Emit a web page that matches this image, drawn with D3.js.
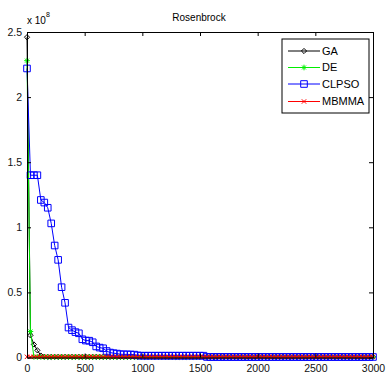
<!DOCTYPE html>
<html>
<head>
<meta charset="utf-8">
<script src="https://cdn.jsdelivr.net/npm/d3@7"></script>
<style>
body { margin: 0; background: #fff; }
</style>
</head>
<body>
<script>
// iterations (x) - one sample every 30 iterations
const iters = [0,30,60,90,120,150,180,210,240,270,300,330,360,390,420,450,480,510,540,570,
  600,630,660,690,720,750,780,810,840,870,900,930,960,990,1020,1050,1080,1110,1140,1170,
  1200,1230,1260,1290,1320,1350,1380,1410,1440,1470,1500,1530,1560,1590,1620,1650,1680,1710,1740,1770,
  1800,1830,1860,1890,1920,1950,1980,2010,2040,2070,2100,2130,2160,2190,2220,2250,2280,2310,2340,2370,
  2400,2430,2460,2490,2520,2550,2580,2610,2640,2670,2700,2730,2760,2790,2820,2850,2880,2910,2940,2970,3000]

// valeurs en unités de 1e8
const gaVals = [2.46,0.17,0.10,0.055,0.015,0.006,0.005,0.005,0.005,0.005,0.005,0.005,0.005,0.005,0.005,0.005,0.005,0.005,0.005,0.005,
  0.005,0.005,0.005,0.005,0.005,0.005,0.005,0.005,0.005,0.005,0.005,0.005,0.005,0.005,0.005,0.005,0.005,0.005,0.005,0.005,
  0.005,0.005,0.005,0.005,0.005,0.005,0.005,0.005,0.005,0.005,0.005,0.005,0.005,0.005,0.005,0.005,0.005,0.005,0.005,0.005,
  0.005,0.005,0.005,0.005,0.005,0.005,0.005,0.005,0.005,0.005,0.005,0.005,0.005,0.005,0.005,0.005,0.005,0.005,0.005,0.005,
  0.005,0.005,0.005,0.005,0.005,0.005,0.005,0.005,0.005,0.005,0.005,0.005,0.005,0.005,0.005,0.005,0.005,0.005,0.005,0.005,0.005]

const deVals = [2.28,0.20,0.004,0.004,0.004,0.004,0.004,0.004,0.004,0.004,0.004,0.004,0.004,0.004,0.004,0.004,0.004,0.004,0.004,0.004,
  0.004,0.004,0.004,0.004,0.004,0.004,0.004,0.004,0.004,0.004,0.004,0.004,0.004,0.004,0.004,0.004,0.004,0.004,0.004,0.004,
  0.004,0.004,0.004,0.004,0.004,0.004,0.004,0.004,0.004,0.004,0.004,0.004,0.004,0.004,0.004,0.004,0.004,0.004,0.004,0.004,
  0.004,0.004,0.004,0.004,0.004,0.004,0.004,0.004,0.004,0.004,0.004,0.004,0.004,0.004,0.004,0.004,0.004,0.004,0.004,0.004,
  0.004,0.004,0.004,0.004,0.004,0.004,0.004,0.004,0.004,0.004,0.004,0.004,0.004,0.004,0.004,0.004,0.004,0.004,0.004,0.004,0.004]

const clpsoVals = [2.22,1.40,1.40,1.40,1.21,1.19,1.15,1.03,0.86,0.75,0.54,0.42,0.23,0.21,0.195,0.186,0.14,0.13,0.129,0.117,
  0.085,0.076,0.071,0.05,0.038,0.033,0.030,0.025,0.024,0.024,0.023,0.022,0.016,0.014,0.014,0.014,0.014,0.014,0.014,0.014,
  0.014,0.014,0.014,0.014,0.014,0.014,0.014,0.014,0.014,0.014,0.014,0.014,0.004,0.004,0.004,0.004,0.004,0.004,0.004,0.004,
  0.004,0.004,0.004,0.004,0.004,0.004,0.004,0.004,0.004,0.004,0.004,0.004,0.004,0.004,0.004,0.004,0.004,0.004,0.004,0.004,
  0.004,0.004,0.004,0.004,0.004,0.004,0.004,0.004,0.004,0.004,0.004,0.004,0.004,0.004,0.004,0.004,0.004,0.004,0.004,0.004,0.004]

const mbmmaVals = [0.005,0.005,0.005,0.005,0.005,0.005,0.005,0.005,0.005,0.005,0.005,0.005,0.005,0.005,0.005,0.005,0.005,0.005,0.005,0.005,
  0.005,0.005,0.005,0.005,0.005,0.005,0.005,0.005,0.005,0.005,0.005,0.005,0.005,0.005,0.005,0.005,0.005,0.005,0.005,0.005,
  0.005,0.005,0.005,0.005,0.005,0.005,0.005,0.005,0.005,0.005,0.005,0.005,0.005,0.005,0.005,0.005,0.005,0.005,0.005,0.005,
  0.005,0.005,0.005,0.005,0.005,0.005,0.005,0.005,0.005,0.005,0.005,0.005,0.005,0.005,0.005,0.005,0.005,0.005,0.005,0.005,
  0.005,0.005,0.005,0.005,0.005,0.005,0.005,0.005,0.005,0.005,0.005,0.005,0.005,0.005,0.005,0.005,0.005,0.005,0.005,0.005,0.005]

const seriesNames = ["GA", "DE", "CLPSO", "MBMMA"]
const xTicks = [0, 500, 1000, 1500, 2000, 2500, 3000]
const yTicks = [0, 0.5, 1, 1.5, 2, 2.5]

const font = "'Liberation Sans', Arial, sans-serif"

// marqueurs style matlab
const diamond = s => `M0,${-s}L${s},0L0,${s}L${-s},0Z`
const square = s => `M${-s},${-s}h${2 * s}v${2 * s}h${-2 * s}Z`
const star = s => {
    const k = s * 0.7
    return `M${-s},0H${s}M0,${-s}V${s}M${-k},${-k}L${k},${k}M${-k},${k}L${k},${-k}`
}
const cross = s => `M${-s},${-s}L${s},${s}M${-s},${s}L${s},${-s}`

const series = [
    { name: seriesNames[0], values: gaVals, color: "#000000", marker: diamond, size: 2.6 },
    { name: seriesNames[1], values: deVals, color: "#00ee00", marker: star, size: 2.8 },
    { name: seriesNames[2], values: clpsoVals, color: "#0000ff", marker: square, size: 3.3 },
    { name: seriesNames[3], values: mbmmaVals, color: "#ff0000", marker: cross, size: 2.2 }
]

const svg = d3.select("body")
    .append("svg")
    .attr("width", 387)
    .attr("height", 378)
    .style("background-color", "#fff")

const x = d3.scaleLinear().domain([0, 3000]).range([27, 373])
const y = d3.scaleLinear().domain([0, 2.5]).range([357.5, 32])

// courbes
const line = d3.line()
    .x((d, i) => x(iters[i]))
    .y(d => y(d))

series.forEach(s => {
    const g = svg.append("g")
    g.append("path")
        .attr("d", line(s.values))
        .attr("fill", "none")
        .attr("stroke", s.color)
        .attr("stroke-width", 1)
    g.selectAll("path.m")
        .data(s.values)
        .enter()
        .append("path")
        .attr("class", "m")
        .attr("transform", (d, i) => `translate(${x(iters[i])},${y(d)})`)
        .attr("d", s.marker(s.size))
        .attr("fill", "none")
        .attr("stroke", s.color)
        .attr("stroke-width", 1)
})

// axes (ticks vers l'intérieur)
const styleAxis = g => {
    g.selectAll("path.domain").attr("stroke", "#000").attr("stroke-width", 1)
    g.selectAll(".tick line").attr("stroke", "#000")
    g.selectAll("text").attr("font-family", font).attr("font-size", 10.5).attr("fill", "#111")
}

svg.append("g")
    .attr("transform", "translate(0,357.5)")
    .call(d3.axisBottom(x).tickValues(xTicks).tickSize(-4).tickSizeOuter(0).tickPadding(7).tickFormat(d3.format("d")))
    .call(styleAxis)

svg.append("g")
    .attr("transform", "translate(0,32)")
    .call(d3.axisTop(x).tickValues(xTicks).tickSize(-4).tickSizeOuter(0).tickFormat(""))
    .call(styleAxis)

svg.append("g")
    .attr("transform", "translate(27,0)")
    .call(d3.axisLeft(y).tickValues(yTicks).tickSize(-4).tickSizeOuter(0).tickPadding(5).tickFormat(d3.format("")))
    .call(styleAxis)

svg.append("g")
    .attr("transform", "translate(373,0)")
    .call(d3.axisRight(y).tickValues(yTicks).tickSize(-4).tickSizeOuter(0).tickFormat(""))
    .call(styleAxis)

// titre
svg.append("text")
    .attr("x", 199)
    .attr("y", 20.5)
    .attr("text-anchor", "middle")
    .attr("font-family", font)
    .attr("font-size", 10)
    .text("Rosenbrock")

// multiplicateur x 10^8
const mult = svg.append("text")
    .attr("x", 27)
    .attr("y", 24)
    .attr("font-family", font)
    .attr("font-size", 10)
mult.append("tspan").text("x 10")
mult.append("tspan").attr("dy", -7).attr("font-size", 7).text("8")

// légende
const legend = svg.append("g")
legend.append("rect")
    .attr("x", 282)
    .attr("y", 39)
    .attr("width", 87)
    .attr("height", 74)
    .attr("fill", "#fff")
    .attr("stroke", "#000")
    .attr("stroke-width", 1)

const legendY = [51, 67.5, 84, 101.5]
series.forEach((s, i) => {
    const ly = legendY[i]
    legend.append("line")
        .attr("x1", 288).attr("x2", 320)
        .attr("y1", ly).attr("y2", ly)
        .attr("stroke", s.color)
    legend.append("path")
        .attr("transform", `translate(304,${ly})`)
        .attr("d", s.marker(s.size))
        .attr("fill", "none")
        .attr("stroke", s.color)
    legend.append("text")
        .attr("x", 322)
        .attr("y", ly)
        .attr("dy", "0.35em")
        .attr("font-family", font)
        .attr("font-size", 11)
        .text(s.name)
})
</script>
</body>
</html>
